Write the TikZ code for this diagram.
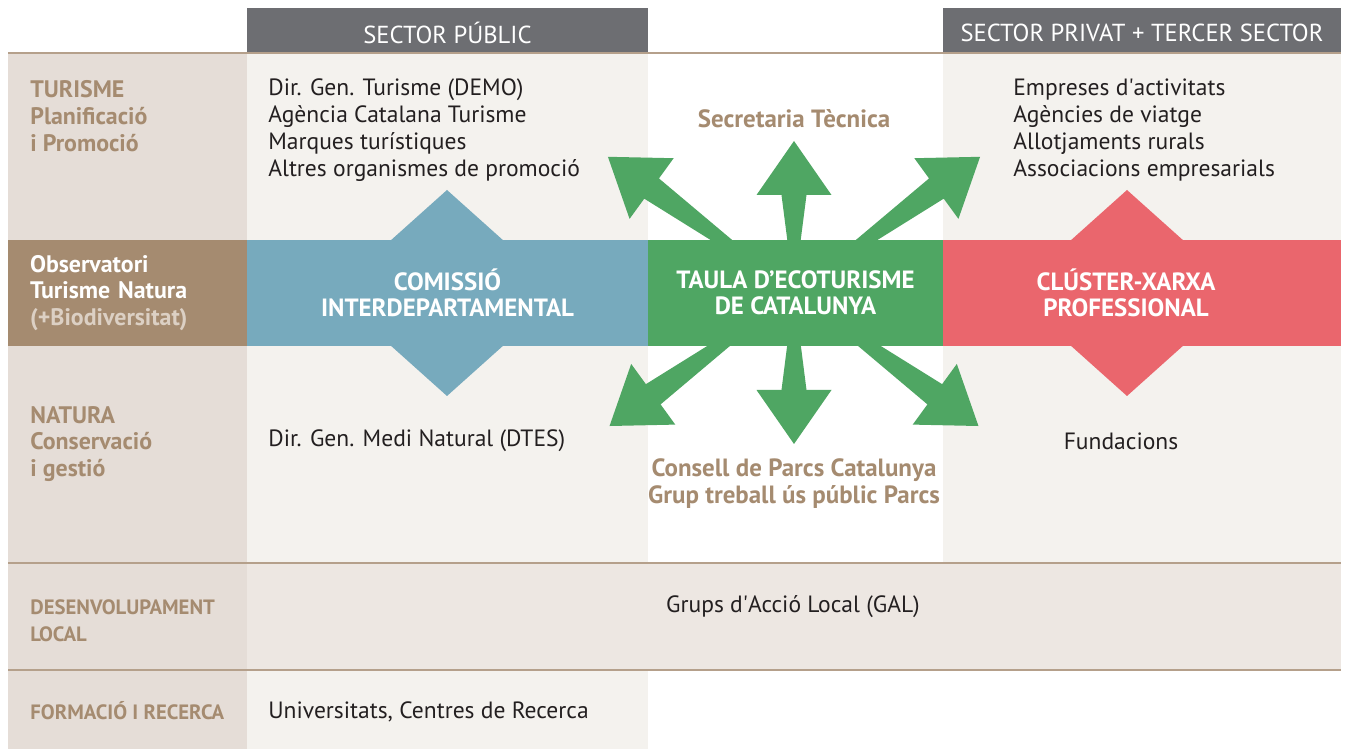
\documentclass[tikz,border=0pt]{standalone}
\usepackage{fontspec}
\setmainfont{PT Sans}
\usepackage{xcolor}

\definecolor{capgris}{HTML}{6D6E72}
\definecolor{filet}{HTML}{B5A08B}
\definecolor{colesq}{HTML}{E5DDD7}
\definecolor{colclar}{HTML}{F4F2EE}
\definecolor{filamig}{HTML}{EDE7E2}
\definecolor{marro}{HTML}{A58B70}
\definecolor{marroclar}{HTML}{DCD0C4}
\definecolor{blau}{HTML}{77AABD}
\definecolor{verd}{HTML}{4FA663}
\definecolor{vermell}{HTML}{EA666D}
\definecolor{negre}{HTML}{231F20}

\newcommand{\textnormalmida}{\fontsize{13.4}{15.3}\selectfont}

\tikzset{
	capsalera/.style={fill=capgris, text=white, font=\fontsize{14}{15}\selectfont,
		minimum height=0.88cm, inner sep=0pt, outer sep=0pt, anchor=north west},
	banda/.style={minimum height=2.12cm, inner sep=0pt, outer sep=0pt, text=white,
		align=center, font=\bfseries\fontsize{14.2}{14.7}\selectfont},
	etiqueta/.style={text=marro, font=\bfseries\fontsize{13.6}{15.3}\selectfont, align=left, anchor=west, inner sep=0pt},
	petita/.style={text=marro, font=\bfseries\fontsize{11.8}{15.3}\selectfont, align=left, anchor=west, inner sep=0pt},
	llista/.style={text=negre, font=\textnormalmida, align=left, anchor=west, inner sep=0pt},
	destacat/.style={text=marro, font=\bfseries\fontsize{14.2}{15.3}\selectfont, align=center, inner sep=0pt},
	filetlinia/.style={draw=filet, line width=1.2pt}
}

\begin{document}
\begin{tikzpicture}[x=0.02cm,y=-0.02cm]
	\useasboundingbox[fill=white] (0,0) rectangle (1346,749);

	% fons de columnes i files
	\fill[colesq] (8,53) rectangle (247,563);
	\fill[colclar] (247,53) rectangle (648,563);
	\fill[colclar] (943,53) rectangle (1341,563);
	\fill[filamig] (8,563) rectangle (1341,670);
	\fill[colesq] (8,563) rectangle (247,670);
	\fill[colesq] (8,670) rectangle (247,749);
	\fill[colclar] (247,670) rectangle (648,749);
	\draw[filetlinia] (8,53) -- (1341,53);
	\draw[filetlinia] (8,563) -- (1341,563);
	\draw[filetlinia] (8,670) -- (1341,670);

	% capçaleres
	\fill[capgris] (247,8) rectangle (648,52);
	\fill[capgris] (943,8) rectangle (1341,52);
	\node[capsalera, fill=none, anchor=center] (publichead) at (447.5,33) {SECTOR PÚBLIC};
	\node[capsalera, fill=none, anchor=center] (privathead) at (1142,33) {SECTOR PRIVAT + TERCER SECTOR};

	% rombes
	\fill[blau] (447,190) -- (562,293) -- (447,396) -- (332,293) -- cycle;
	\fill[vermell] (1127,190) -- (1242,293) -- (1127,396) -- (1012,293) -- cycle;

	% fletxes de la taula
	\coordinate (taulacentre) at (794,292);
	\foreach \angle/\len in {90/151,36/230,144/230,-90/152,-36/228,-144/228}
		\fill[verd, shift={(taulacentre)}, rotate=\angle]
			(0,0) -- (\len-54,12.5) -- (\len-54,37.5) -- (\len,0)
			-- (\len-54,-37.5) -- (\len-54,-12.5) -- cycle;

	% banda central
	\node[banda, fill=marro, minimum width=4.78cm, inner xsep=0.44cm, text width=3.9cm, align=left,
		font=\bfseries\fontsize{13.6}{15.3}\selectfont] (observatori) at (127.5,293)
		{Observatori\\Turisme Natura\\{\color{marroclar}(+Biodiversitat)}};
	\node[banda, fill=blau, minimum width=8.02cm] (comissio) at (447.5,293) {COMISSIÓ\\INTERDEPARTAMENTAL};
	\node[banda, fill=verd, minimum width=5.9cm] (taula) at (795.5,293) {TAULA D’ECOTURISME\\DE CATALUNYA};
	\node[banda, fill=vermell, minimum width=7.96cm] (cluster) at (1142,293) {};
	\node[banda] (clustertext) at (1126,293) {CLÚSTER-XARXA\\PROFESSIONAL};

	% etiquetes de l'esquerra
	\node[etiqueta] (turisme) at (30,116) {TURISME\\Planificació\\i Promoció};
	\node[etiqueta] (natura) at (30,444) {NATURA\\Conservació\\i gestió};
	\node[petita] (desenvolupament) at (30,620.5) {DESENVOLUPAMENT\\LOCAL};
	\node[petita] (formacio) at (30,711) {FORMACIÓ I RECERCA};

	% entitats
	\node[llista] (publicturisme) at (268,130)
		{Dir. Gen. Turisme (DEMO)\\Agència Catalana Turisme\\Marques turístiques\\Altres organismes de promoció};
	\node[llista] (privatturisme) at (1013,130)
		{Empreses d\textquotesingle activitats\\Agències de viatge\\Allotjaments rurals\\Associacions empresarials};
	\node[llista] (medinatural) at (268,441) {Dir. Gen. Medi Natural (DTES)};
	\node[llista, anchor=center] (fundacions) at (1121,441) {Fundacions};
	\node[llista, anchor=center] (gal) at (793,607) {Grups d\textquotesingle Acció Local (GAL)};
	\node[llista] (universitats) at (268,712) {Universitats, Centres de Recerca};
	\node[destacat] (secretaria) at (794,119) {Secretaria Tècnica};
	\node[destacat] (consell) at (794,484) {Consell de Parcs Catalunya\\Grup treball ús públic Parcs};
\end{tikzpicture}
\end{document}
